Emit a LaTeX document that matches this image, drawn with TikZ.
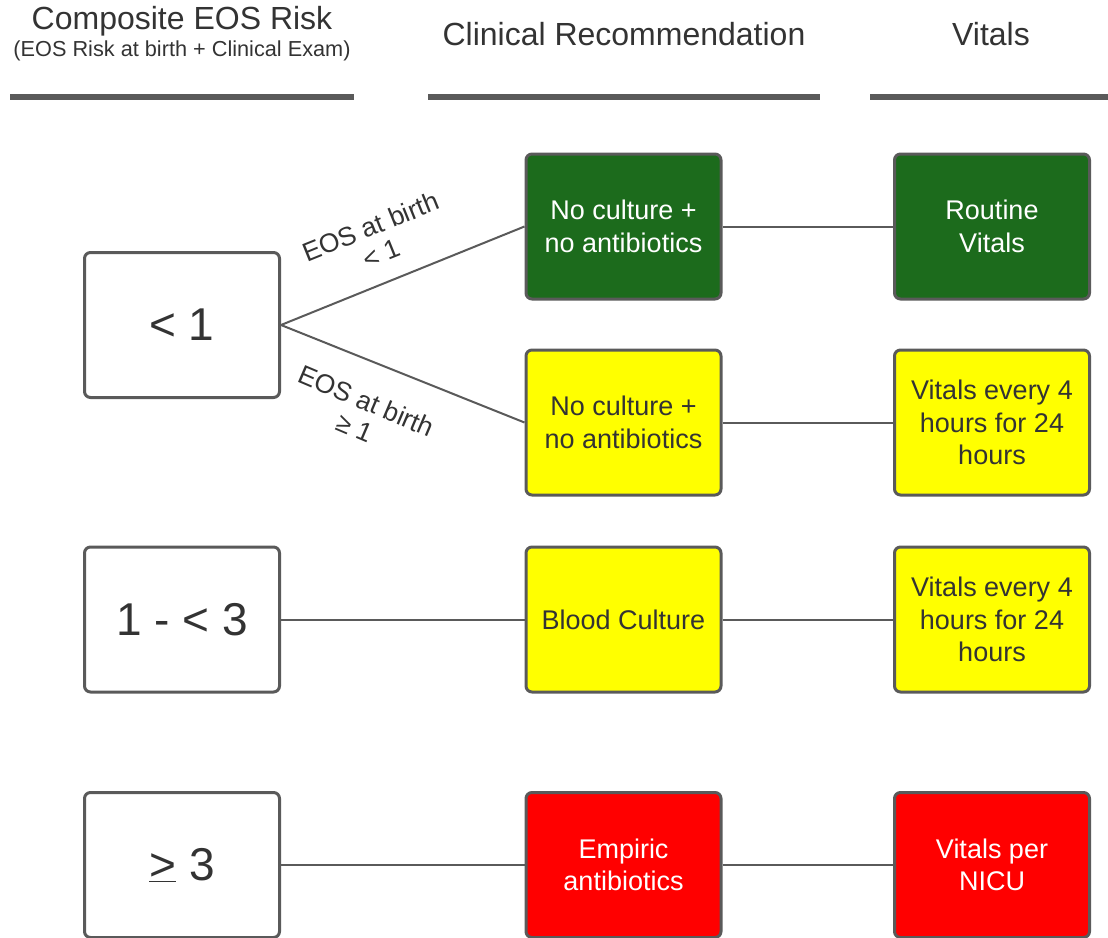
\documentclass[tikz,border=0pt]{standalone}
\usepackage{fontspec}
\setmainfont{Liberation Sans}
\definecolor{boxline}{HTML}{5A5A5A}
\definecolor{txt}{HTML}{333333}
\definecolor{dgreen}{HTML}{1C6B1C}
\definecolor{yel}{HTML}{FFFF00}
\definecolor{rd}{HTML}{FF0000}
\begin{document}
\begin{tikzpicture}[x=1pt,y=-1pt,
  box/.style={draw=boxline, line width=3pt, rounded corners=6pt, minimum width=195pt, minimum height=145pt, align=center, inner sep=0pt, text=txt, font=\fontsize{27}{32.5}\selectfont},
  riskbox/.style={box, fill=white, font=\fontsize{46}{50}\selectfont},
  greenbox/.style={box, fill=dgreen, text=white},
  yellowbox/.style={box, fill=yel, text=txt},
  redbox/.style={box, fill=rd, text=white},
  conn/.style={draw=boxline, line width=2pt},
  hdr/.style={text=txt, font=\fontsize{32}{36}\selectfont, inner sep=0pt},
  rule/.style={draw=boxline, line width=6pt},
  elabel/.style={text=txt, align=center, inner sep=0pt, font=\fontsize{26.5}{29}\selectfont}]
\useasboundingbox (0,0) rectangle (1108,937);
% headers
\node[hdr] (h1) at (182,21) {Composite EOS Risk};
\node[text=txt, inner sep=0pt, font=\fontsize{21.7}{24}\selectfont] (h1s) at (182,51) {(EOS Risk at birth + Clinical Exam)};
\node[hdr] (h2) at (624,34) {Clinical Recommendation};
\node[hdr] (h3) at (991,34) {Vitals};
\coordinate (r1a) at (10,97); \coordinate (r1b) at (354,97);
\coordinate (r2a) at (428,97); \coordinate (r2b) at (820,97);
\coordinate (r3a) at (870,97); \coordinate (r3b) at (1108,97);
\draw[rule] (r1a) -- (r1b);
\draw[rule] (r2a) -- (r2b);
\draw[rule] (r3a) -- (r3b);
% left column
\node[riskbox] (L1) at (182,325) {< 1};
\node[riskbox] (L2) at (182,619.5) {1 - < 3};
\node[riskbox] (L3) at (182,865) {\underline{>} 3};
% middle column
\node[greenbox] (M1) at (623.5,226.5) {No culture +\\no antibiotics};
\node[yellowbox] (M2) at (623.5,422.5) {No culture +\\no antibiotics};
\node[yellowbox] (M3) at (623.5,619.5) {Blood Culture};
\node[redbox] (M4) at (623.5,865) {Empiric\\antibiotics};
% right column
\node[greenbox] (V1) at (992,226.5) {Routine\\Vitals};
\node[yellowbox] (V2) at (992,422.5) {Vitals every 4\\hours for 24\\hours};
\node[yellowbox] (V3) at (992,619.5) {Vitals every 4\\hours for 24\\hours};
\node[redbox] (V4) at (992,865) {Vitals per\\NICU};
% connectors
\draw[conn] (L1.east) -- (M1.west);
\draw[conn] (L1.east) -- (M2.west);
\draw[conn] (L2) -- (M3);
\draw[conn] (L3) -- (M4);
\draw[conn] (M1) -- (V1);
\draw[conn] (M2) -- (V2);
\draw[conn] (M3) -- (V3);
\draw[conn] (M4) -- (V4);
% edge labels
\node[elabel, rotate=22] (e1) at (376,240) {EOS at birth\\< 1};
\node[elabel, rotate=-23] (e2) at (361,414) {EOS at birth\\≥ 1};
\end{tikzpicture}
\end{document}
